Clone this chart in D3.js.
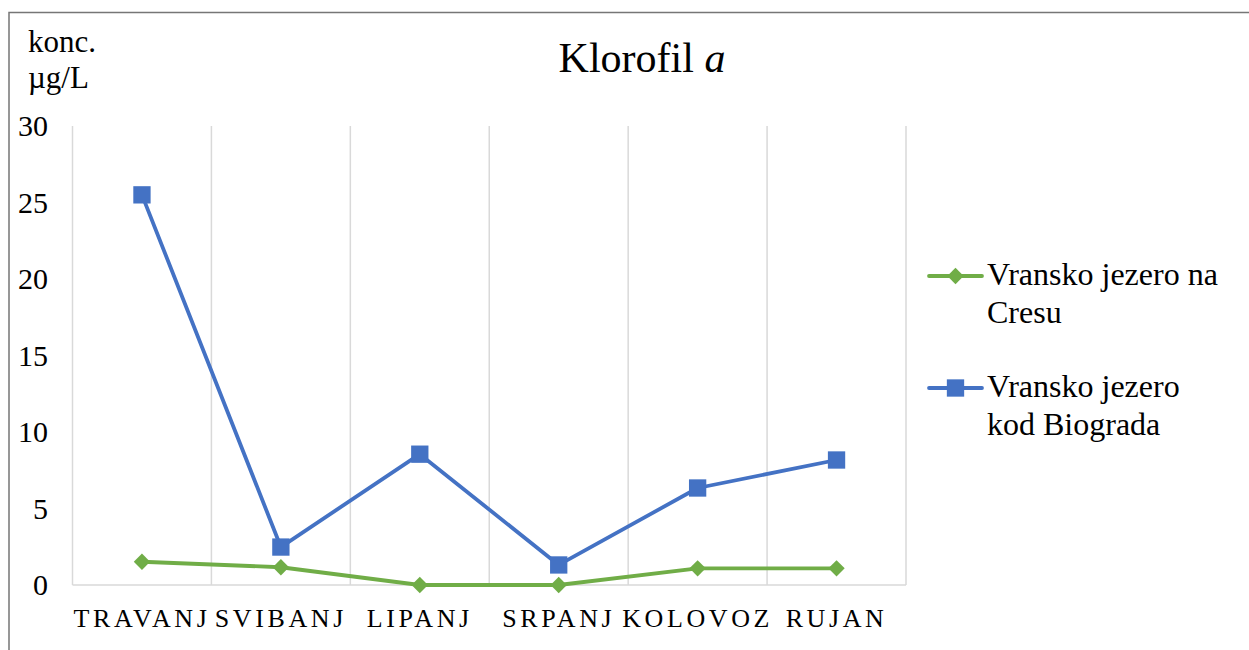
<!DOCTYPE html>
<html>
<head>
<meta charset="utf-8">
<script src="https://cdn.jsdelivr.net/npm/d3@7"></script>
<style>
  body { margin: 0; background: #fff; }
  svg { display: block; }
  svg text { font-family: "Liberation Serif", "DejaVu Serif", serif; }
</style>
</head>
<body>
<svg id="main-svg" width="1249" height="650"></svg>
<script>
// data
const months = ["TRAVANJ", "SVIBANJ", "LIPANJ", "SRPANJ", "KOLOVOZ", "RUJAN"];
const cresValues = [1.52, 1.16, 0, 0, 1.09, 1.09];
const biogradValues = [25.5, 2.48, 8.55, 1.31, 6.34, 8.17];
const yTicks = [0, 5, 10, 15, 20, 25, 30];
const seriesNames = [["Vransko jezero na", "Cresu"], ["Vransko jezero", "kod Biograda"]];

const svg = d3.select("#main-svg");
const serif = "'Liberation Serif', 'DejaVu Serif', serif";

// outer chart border (only left and top fall inside the picture)
svg.append("rect")
    .attr("x", 9).attr("y", 12.5)
    .attr("width", 1300).attr("height", 700)
    .attr("fill", "none")
    .attr("stroke", "#767676")
    .attr("stroke-width", 1.5);

// plot area
const plotLeft = 72.5, plotRight = 906, plotTop = 126, plotBottom = 585;

const x = d3.scaleBand()
    .domain(months)
    .range([plotLeft, plotRight])
    .padding(0);

const y = d3.scaleLinear()
    .domain([0, 30])
    .range([plotBottom, plotTop]);

// vertical gridlines at category edges
const edges = months.map(m => x(m)).concat([plotRight]);
svg.append("g")
    .selectAll("line")
    .data(edges)
    .enter().append("line")
    .attr("x1", d => d).attr("x2", d => d)
    .attr("y1", plotTop).attr("y2", plotBottom)
    .attr("stroke", "#d9d9d9")
    .attr("stroke-width", 1.5);

// category axis line
svg.append("line")
    .attr("x1", plotLeft).attr("x2", plotRight)
    .attr("y1", plotBottom).attr("y2", plotBottom)
    .attr("stroke", "#d9d9d9")
    .attr("stroke-width", 1.5);

// y tick labels
svg.append("g")
    .selectAll("text")
    .data(yTicks)
    .enter().append("text")
    .attr("x", 48)
    .attr("y", d => y(d))
    .attr("dy", "0.34em")
    .attr("text-anchor", "end")
    .attr("font-family", serif)
    .attr("font-size", "30px")
    .attr("fill", "#000")
    .text(d => d);

// x labels with wide letter spacing
svg.append("g")
    .selectAll("text")
    .data(months)
    .enter().append("text")
    .attr("x", d => x(d) + x.bandwidth() / 2)
    .attr("y", 627)
    .attr("text-anchor", "middle")
    .attr("font-family", serif)
    .attr("font-size", "26px")
    .attr("letter-spacing", "3.6px")
    .attr("fill", "#000")
    .text(d => d);

// unit label
svg.append("text")
    .attr("x", 28).attr("y", 52)
    .attr("font-family", serif)
    .attr("font-size", "31px")
    .text("konc.");
svg.append("text")
    .attr("x", 28).attr("y", 88)
    .attr("font-family", serif)
    .attr("font-size", "31px")
    .text("µg/L");

// title
const title = svg.append("text")
    .attr("x", 642).attr("y", 72)
    .attr("text-anchor", "middle")
    .attr("font-family", serif)
    .attr("font-size", "42px")
    .attr("fill", "#000");
title.append("tspan").text("Klorofil ");
title.append("tspan").attr("font-style", "italic").text("a");

const colors = ["#70AD47", "#4472C4"];
const series = [cresValues, biogradValues];

const line = d3.line()
    .x((d, i) => x(months[i]) + x.bandwidth() / 2)
    .y(d => y(d));

const diamond = d3.symbol().type(d3.symbolDiamond2).size(170);
const square = d3.symbol().type(d3.symbolSquare).size(300);

function drawMarker(g, kind, cx, cy, color) {
    g.append("path")
        .attr("d", kind === 0 ? diamond() : square())
        .attr("transform", `translate(${cx},${cy})`)
        .attr("fill", color);
}

series.forEach((vals, s) => {
    const g = svg.append("g");
    g.append("path")
        .datum(vals)
        .attr("d", line)
        .attr("fill", "none")
        .attr("stroke", colors[s])
        .attr("stroke-width", 3.8)
        .attr("stroke-linejoin", "round");
    vals.forEach((v, i) => {
        drawMarker(g, s, x(months[i]) + x.bandwidth() / 2, y(v), colors[s]);
    });
});

// legend
const legendY = [276, 388];
seriesNames.forEach((names, s) => {
    const g = svg.append("g");
    g.append("line")
        .attr("x1", 929).attr("x2", 982)
        .attr("y1", legendY[s]).attr("y2", legendY[s])
        .attr("stroke", colors[s])
        .attr("stroke-width", 3.8)
        .attr("stroke-linecap", "round");
    drawMarker(g, s, 955.5, legendY[s], colors[s]);
    names.forEach((t, k) => {
        g.append("text")
            .attr("x", 987)
            .attr("y", legendY[s] + 9 + k * 37.5)
            .attr("font-family", serif)
            .attr("font-size", "32px")
            .attr("fill", "#000")
            .text(t);
    });
});
</script>
</body>
</html>
